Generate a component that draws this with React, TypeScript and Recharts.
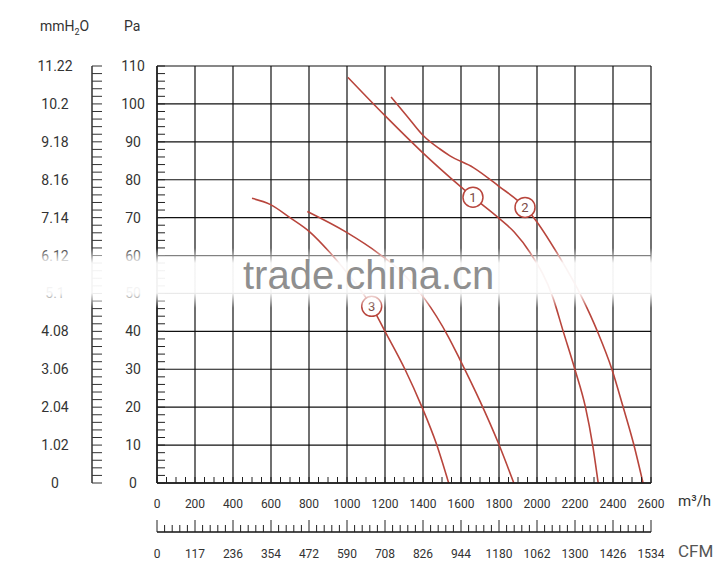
import { LineChart, Line, XAxis, YAxis, CartesianGrid, ReferenceDot } from "recharts";

const RED = "#b8453c";
const INK = "#333";

// tick labels
const flowTicks = [0, 200, 400, 600, 800, 1000, 1200, 1400, 1600, 1800, 2000, 2200, 2400, 2600];
const cfmLabels = ["0", "117", "236", "354", "472", "590", "708", "826", "944", "1180", "1062", "1300", "1426", "1534"];
const paTicks = [0, 10, 20, 30, 40, 50, 60, 70, 80, 90, 100, 110];
const mmLabels = ["0", "1.02", "2.04", "3.06", "4.08", "5.1", "6.12", "7.14", "8.16", "9.18", "10.2", "11.22"];

// minor tick positions
const flowMinor = Array.from({ length: 53 }, (_, i) => i * 50);
const cfmMinor = Array.from({ length: 66 }, (_, i) => i * 40);
const paMinor = Array.from({ length: 56 }, (_, i) => i * 2);

// fan curves, q = m³/h, p = Pa
const curve1 = [
  { q: 1005, p: 107 },
  { q: 1200, p: 96.9 },
  { q: 1395, p: 87.3 },
  { q: 1595, p: 78.3 },
  { q: 1663, p: 75.4 },
  { q: 1796, p: 70 },
  { q: 1880, p: 66.2 },
  { q: 1963, p: 60.8 },
  { q: 2084, p: 48.9 },
  { q: 2138, p: 40 },
  { q: 2200, p: 29.9 },
  { q: 2255, p: 20 },
  { q: 2293, p: 10 },
  { q: 2322, p: 0 },
];

const curve2 = [
  { q: 1232, p: 101.8 },
  { q: 1314, p: 96.9 },
  { q: 1402, p: 91.6 },
  { q: 1489, p: 88.1 },
  { q: 1542, p: 86.3 },
  { q: 1665, p: 83.2 },
  { q: 1796, p: 78.4 },
  { q: 1937, p: 72.7 },
  { q: 1989, p: 69.6 },
  { q: 2104, p: 60.8 },
  { q: 2237, p: 48.9 },
  { q: 2318, p: 40 },
  { q: 2395, p: 29.9 },
  { q: 2453, p: 20.1 },
  { q: 2507, p: 10.6 },
  { q: 2558, p: 0 },
];

const curve3 = [
  { q: 500, p: 75.1 },
  { q: 595, p: 73.5 },
  { q: 700, p: 70 },
  { q: 805, p: 66.2 },
  { q: 910, p: 60.8 },
  { q: 1020, p: 54.2 },
  { q: 1130, p: 46.6 },
  { q: 1200, p: 40 },
  { q: 1305, p: 30 },
  { q: 1393, p: 20.2 },
  { q: 1470, p: 10.4 },
  { q: 1535, p: 0 },
];

const curve4 = [
  { q: 791, p: 71.6 },
  { q: 998, p: 66.1 },
  { q: 1165, p: 60.6 },
  { q: 1290, p: 55.5 },
  { q: 1410, p: 48.5 },
  { q: 1532, p: 38.7 },
  { q: 1595, p: 32.5 },
  { q: 1700, p: 21.6 },
  { q: 1796, p: 10.6 },
  { q: 1878, p: 0 },
];

const markers = [
  { id: "1", q: 1663, p: 75.4 },
  { id: "2", q: 1937, p: 72.7 },
  { id: "3", q: 1130, p: 46.6 },
];

const curves = [curve1, curve2, curve3, curve4];

const FlowTick = ({ x, y, payload }: any) => {
  const v = payload.value;
  return (
    <g>
      <line x1={x} x2={x} y1={y} y2={y - 6} stroke="#222" />
      {v % 200 === 0 && (
        <text x={x} y={y + 25} textAnchor="middle" fontSize={12} fill={INK}>
          {v}
        </text>
      )}
    </g>
  );
};

const CfmTick = ({ x, y, payload }: any) => {
  const v = payload.value;
  const major = v % 200 === 0;
  return (
    <g>
      <line x1={x} x2={x} y1={y} y2={y - (major ? 12 : 7)} stroke="#222" />
      {major && (
        <text x={x} y={y + 26} textAnchor="middle" fontSize={12} fill={INK}>
          {cfmLabels[v / 200]}
        </text>
      )}
    </g>
  );
};

const PaTick = ({ x, y, payload }: any) => {
  const v = payload.value;
  return (
    <g>
      <line x1={x} x2={x + 8} y1={y} y2={y} stroke="#222" />
      {v % 10 === 0 && (
        <text x={x - 24} y={y + 5} textAnchor="middle" fontSize={14} fill={INK}>
          {v}
        </text>
      )}
    </g>
  );
};

const MmTick = ({ x, y, payload }: any) => {
  const v = payload.value;
  return (
    <g>
      <line x1={x} x2={x + 10} y1={y} y2={y} stroke="#333" />
      {v % 10 === 0 && (
        <text x={x - 37} y={y + 5} textAnchor="middle" fontSize={14} fill={INK}>
          {mmLabels[v / 10]}
        </text>
      )}
    </g>
  );
};

export default function App() {
  return (
    <div
      style={{
        position: "absolute",
        left: 0,
        top: 0,
        width: 728,
        height: 580,
        background: "#fff",
        fontFamily: "Roboto, 'Liberation Sans', sans-serif",
      }}
    >
      <LineChart width={728} height={580} margin={{ top: 66, right: 77, left: 0, bottom: 0 }}>
        <XAxis
          xAxisId="b_cfm"
          dataKey="q"
          type="number"
          domain={[0, 2600]}
          allowDataOverflow
          ticks={cfmMinor}
          interval={0}
          height={48}
          tickSize={0}
          tickMargin={0}
          axisLine={{ stroke: "#111", strokeWidth: 1.3 }}
          tick={<CfmTick />}
        />
        <XAxis
          xAxisId="a_q"
          dataKey="q"
          type="number"
          domain={[0, 2600]}
          allowDataOverflow
          ticks={flowMinor}
          interval={0}
          height={49}
          tickSize={0}
          tickMargin={0}
          axisLine={{ stroke: "#111", strokeWidth: 1.3 }}
          tick={<FlowTick />}
        />
        <YAxis
          yAxisId="b_mm"
          type="number"
          domain={[0, 110]}
          allowDataOverflow
          ticks={paMinor}
          interval={0}
          width={92}
          tickSize={0}
          tickMargin={0}
          axisLine={{ stroke: "#111", strokeWidth: 1.3 }}
          tick={<MmTick />}
        />
        <YAxis
          yAxisId="a_pa"
          type="number"
          domain={[0, 110]}
          allowDataOverflow
          ticks={paMinor}
          interval={0}
          width={65}
          tickSize={0}
          tickMargin={0}
          axisLine={{ stroke: "#111", strokeWidth: 1.3 }}
          tick={<PaTick />}
        />
        <CartesianGrid
          xAxisId="a_q"
          yAxisId="a_pa"
          verticalValues={flowTicks}
          horizontalValues={paTicks}
          stroke="#111"
          strokeWidth={1.2}
        />
        {/* keeps the CFM scale bound to the flow data */}
        <Line
          xAxisId="b_cfm"
          yAxisId="b_mm"
          data={curve1}
          dataKey="p"
          stroke="none"
          dot={false}
          activeDot={false}
          legendType="none"
          isAnimationActive={false}
        />
        {curves.map((c, i) => (
          <Line
            key={i}
            xAxisId="a_q"
            yAxisId="a_pa"
            data={c}
            dataKey="p"
            type="monotone"
            dot={false}
            stroke={RED}
            strokeWidth={1.6}
            isAnimationActive={false}
          />
        ))}
        {markers.map((m) => (
          <ReferenceDot
            key={m.id}
            xAxisId="a_q"
            yAxisId="a_pa"
            x={m.q}
            y={m.p}
            r={10}
            fill="#fff"
            stroke={RED}
            strokeWidth={1.5}
            label={{ value: m.id, position: "center", fill: "#7a4a45", fontSize: 13 }}
          />
        ))}
      </LineChart>

      <div style={{ position: "absolute", left: 40, top: 18, fontSize: 14, color: INK }}>
        mmH<sub style={{ fontSize: 9 }}>2</sub>O
      </div>
      <div style={{ position: "absolute", left: 124, top: 18, fontSize: 14, color: INK }}>Pa</div>
      <div style={{ position: "absolute", left: 678, top: 492, fontSize: 15, color: INK }}>
        m³/h
      </div>
      <div style={{ position: "absolute", left: 678, top: 541, fontSize: 17, color: "#555" }}>CFM</div>

      {/* watermark band */}
      <div
        style={{
          position: "absolute",
          left: 0,
          top: 248,
          width: 728,
          height: 60,
          background:
            "linear-gradient(to bottom, rgba(255,255,255,0) 0%, rgba(255,255,255,0.94) 25%, rgba(255,255,255,0.94) 75%, rgba(255,255,255,0) 100%)",
          pointerEvents: "none",
        }}
      />
      <div
        style={{
          position: "absolute",
          left: 243,
          top: 253,
          fontSize: 40,
          fontFamily: "'Liberation Sans', Arial, sans-serif",
          color: "#8f8f8f",
          pointerEvents: "none",
        }}
      >
        trade.china.cn
      </div>
    </div>
  );
}
